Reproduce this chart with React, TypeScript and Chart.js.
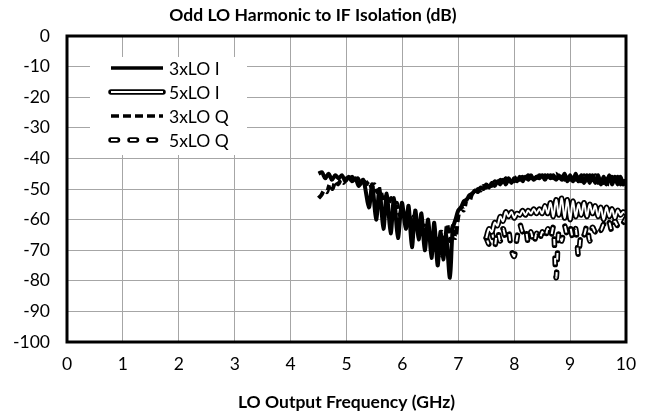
import { useEffect, useRef } from 'react';
import { Chart, registerables } from 'chart.js';

Chart.register(...registerables);

const FONT = 'Lato';
const FONT_SIZE = 17.5;
const TITLE_SIZE = 17.5;

const chartTitle = 'Odd LO Harmonic to IF Isolation (dB)';
const xAxisTitle = 'LO Output Frequency (GHz)';
const seriesNames = ['3xLO I', '5xLO I', '3xLO Q', '5xLO Q'];

// regular sampling grids (GHz)
const gridStep = 0.05;
const grid3Start = 4.5;
const grid3TailStart = 7.0;
const grid5Start = 7.5;

// 3xLO I: irregular samples 4.50 .. 6.95 GHz, then regular grid 7.00 .. 10.00 GHz
const lo3IHeadFreq = [
  4.5, 4.56, 4.62, 4.68, 4.74, 4.8, 4.86, 4.92, 4.98, 5.04,
  5.1, 5.16, 5.22, 5.3, 5.4, 5.46, 5.53, 5.59, 5.66, 5.72,
  5.79, 5.85, 5.92, 5.99, 6.06, 6.11, 6.17, 6.23, 6.29, 6.34,
  6.4, 6.46, 6.52, 6.57, 6.63, 6.68, 6.73, 6.78, 6.85, 6.9,
  6.95,
];
const lo3IHead = [
  -45, -44.5, -46.5, -45, -47, -45.5, -46.5, -45.5, -47.5, -46,
  -47.5, -46.5, -49, -47, -56, -48.5, -60, -50, -63, -51.5,
  -64.5, -53, -66, -54.5, -63, -55.5, -69, -57, -66.5, -58,
  -70, -60, -72.5, -61, -75, -64, -73, -65, -79, -63,
  -60,
];
const lo3ITail = [
  -57, -56, -54, -53.5, -52, -51.5, -50.5, -51, -49.5, -50,
  -48.5, -49.5, -48, -49, -47.5, -48.5, -47, -48.5, -46.5, -48,
  -46.5, -47.5, -46, -47.5, -46, -47, -45.5, -47, -46, -46.5,
  -45.5, -47, -45.5, -46.5, -45.5, -47, -45.5, -47, -45, -47.5,
  -45.5, -47.5, -45, -47.5, -45.5, -48, -45.5, -48, -45.5, -48,
  -45.5, -48.5, -46, -48.5, -45.5, -48.5, -46, -48.5, -46, -48.5,
  -47,
];

// 3xLO Q, 4.50 .. 10.00 GHz
const lo3Q = [
  -53, -52, -50.5, -51, -48.5, -50, -47.5, -48.5, -47, -48,
  -46.5, -47.5, -46, -47.5, -46.5, -48, -47, -48.5, -47.5, -49.5,
  -48.5, -51, -50, -53, -51.5, -55, -53, -57, -54.5, -58.5,
  -56, -60, -57.5, -62, -59, -63.5, -60.5, -65, -62, -67,
  -63.5, -70, -65, -72, -64, -69, -61.5, -67, -62, -66,
  -59, -56, -57, -53.5, -54, -51.5, -52, -50, -50.5, -49,
  -49.5, -48, -49, -47.5, -48.5, -47, -48, -46.5, -47.5, -46.5,
  -47.5, -46, -47, -46, -47, -45.5, -46.5, -45.5, -46.5, -45.5,
  -46.5, -45.5, -47, -45.5, -46.5, -45, -46.5, -45, -47, -45.5,
  -47, -45.5, -47, -45, -47.5, -45.5, -47.5, -45.5, -48, -45.5,
  -48, -46, -48, -46, -48.5, -46, -48, -46, -48.5, -46.5,
  -48,
];

// 5xLO I, 7.50 .. 10.00 GHz
const lo5I = [
  -66, -63, -64, -61, -62, -59, -60.5, -57.5, -59, -57.5,
  -59.5, -58, -58.5, -57, -58.5, -57, -58, -56.5, -58, -56.5,
  -58, -55.5, -58, -54.5, -59, -53.5, -58.5, -53, -59.5, -53.5,
  -60, -54, -59, -55, -58.5, -54.5, -59, -55, -58, -55.5,
  -59, -56, -60, -56, -59, -56.5, -59.5, -57, -58.5, -57.5,
  -58,
];

// 5xLO Q, 7.50 .. 10.00 GHz
const lo5Q = [
  -66, -68, -64, -69, -63.5, -67, -63, -66, -64, -70,
  -72, -66, -61.5, -64, -62.5, -67.5, -64, -68, -64.5, -67,
  -64, -66.5, -63, -66, -62.5, -79, -63.5, -67, -62, -65,
  -62.5, -66, -63, -72, -64, -65, -62, -67, -62.5, -64,
  -62, -63.5, -61.5, -63, -61, -64, -60.5, -62, -60, -61,
  -59.5,
];

const onGrid = (start: number, values: number[]) =>
  values.map((y, i) => ({ x: +(start + i * gridStep).toFixed(3), y }));
const onFreqs = (freqs: number[], values: number[]) => values.map((y, i) => ({ x: freqs[i], y }));

const STYLE = {
  width3: 4,
  dash3: [8, 4],
  dash5: [6.5, 12.5],
  outline: 5.5,
  core: 2,
};

const legendPlugin = {
  id: 'boxLegend',
  beforeDatasetsDraw(chart: any) {
    const { ctx, chartArea } = chart;
    const L = chartArea.left;
    const T = chartArea.top;
    ctx.save();
    ctx.fillStyle = '#ffffff';
    ctx.fillRect(L + 23, T + 21, 157, 98);
    const x1 = L + 44;
    const x2 = L + 96;
    const rows = seriesNames.map((_, i) => T + 32 + i * 24);
    const line = (y: number, color: string, width: number, dash: number[], cap: CanvasLineCap) => {
      ctx.beginPath();
      ctx.setLineDash(dash);
      ctx.lineCap = cap;
      ctx.strokeStyle = color;
      ctx.lineWidth = width;
      ctx.moveTo(x1, y);
      ctx.lineTo(x2, y);
      ctx.stroke();
    };
    line(rows[0], '#000', 3.5, [], 'butt');
    line(rows[1], '#000', STYLE.outline, [], 'round');
    line(rows[1], '#fff', STYLE.core, [], 'butt');
    line(rows[2], '#000', 3.5, STYLE.dash3, 'butt');
    line(rows[3], '#000', STYLE.outline, STYLE.dash5, 'round');
    line(rows[3], '#fff', STYLE.core, STYLE.dash5, 'butt');
    ctx.setLineDash([]);
    ctx.fillStyle = '#000';
    ctx.font = `${FONT_SIZE}px ${FONT}`;
    ctx.textAlign = 'left';
    ctx.textBaseline = 'middle';
    seriesNames.forEach((name, i) => ctx.fillText(name, L + 102, rows[i] + 1));
    ctx.restore();
  },
  afterDraw(chart: any) {
    const { ctx, chartArea } = chart;
    ctx.save();
    ctx.strokeStyle = '#000';
    ctx.lineWidth = 3;
    ctx.setLineDash([]);
    ctx.strokeRect(chartArea.left, chartArea.top, chartArea.right - chartArea.left, chartArea.bottom - chartArea.top);
    ctx.restore();
  },
};

export default function App() {
  const ref = useRef<HTMLCanvasElement>(null);

  useEffect(() => {
    document.body.style.margin = '0';
    const base = { pointRadius: 0, tension: 0.3, fill: false, borderJoinStyle: 'round' as const };
    const lo3IPoints = [...onFreqs(lo3IHeadFreq, lo3IHead), ...onGrid(grid3TailStart, lo3ITail)];
    const chart = new Chart(ref.current!, {
      type: 'line',
      data: {
        datasets: [
          {
            ...base,
            label: '3xLO I',
            data: lo3IPoints,
            borderColor: '#000',
            borderWidth: STYLE.width3,
            order: 1,
          },
          {
            ...base,
            label: '3xLO Q',
            data: onGrid(grid3Start, lo3Q),
            borderColor: '#000',
            borderWidth: STYLE.width3,
            borderDash: STYLE.dash3,
            order: 2,
          },
          {
            ...base,
            label: '5xLO I',
            data: onGrid(grid5Start, lo5I),
            borderColor: '#fff',
            borderWidth: STYLE.core,
            order: 3,
          },
          {
            ...base,
            label: '5xLO I outline',
            data: onGrid(grid5Start, lo5I),
            borderColor: '#000',
            borderWidth: STYLE.outline,
            borderCapStyle: 'round',
            order: 4,
          },
          {
            ...base,
            label: '5xLO Q',
            data: onGrid(grid5Start, lo5Q),
            borderColor: '#fff',
            borderWidth: STYLE.core,
            borderDash: STYLE.dash5,
            order: 5,
          },
          {
            ...base,
            label: '5xLO Q outline',
            data: onGrid(grid5Start, lo5Q),
            borderColor: '#000',
            borderWidth: STYLE.outline,
            borderDash: STYLE.dash5,
            borderCapStyle: 'round',
            order: 6,
          },
        ],
      },
      options: {
        responsive: false,
        animation: false,
        events: [],
        layout: { padding: { left: 0, right: 24, top: 0, bottom: 0 } },
        plugins: {
          legend: { display: false },
          tooltip: { enabled: false },
          title: {
            display: true,
            text: chartTitle,
            color: '#000',
            font: { family: FONT, size: TITLE_SIZE, weight: 'bold' },
            padding: { top: 5, bottom: 10 },
          },
        },
        scales: {
          x: {
            type: 'linear',
            min: 0,
            max: 10,
            ticks: { stepSize: 1, color: '#000', font: { family: FONT, size: FONT_SIZE }, padding: 12, maxRotation: 0 },
            grid: { color: '#a6a6a6', lineWidth: 1, drawTicks: false },
            border: { display: false },
            title: {
              display: true,
              text: xAxisTitle,
              color: '#000',
              font: { family: FONT, size: FONT_SIZE, weight: 'bold' },
              padding: { top: 0, bottom: 4 },
            },
            afterFit: (scale: any) => {
              scale.height = 75;
            },
          },
          y: {
            type: 'linear',
            min: -100,
            max: 0,
            ticks: { stepSize: 10, color: '#000', font: { family: FONT, size: FONT_SIZE }, padding: 17 },
            grid: { color: '#a6a6a6', lineWidth: 1, drawTicks: false },
            border: { display: false },
            afterFit: (scale: any) => {
              scale.width = 67;
            },
          },
        },
      },
      plugins: [legendPlugin],
    });
    return () => chart.destroy();
  }, []);

  return (
    <div style={{ width: 650, height: 417 }}>
      <canvas ref={ref} width={650} height={417} style={{ display: 'block' }} />
    </div>
  );
}
